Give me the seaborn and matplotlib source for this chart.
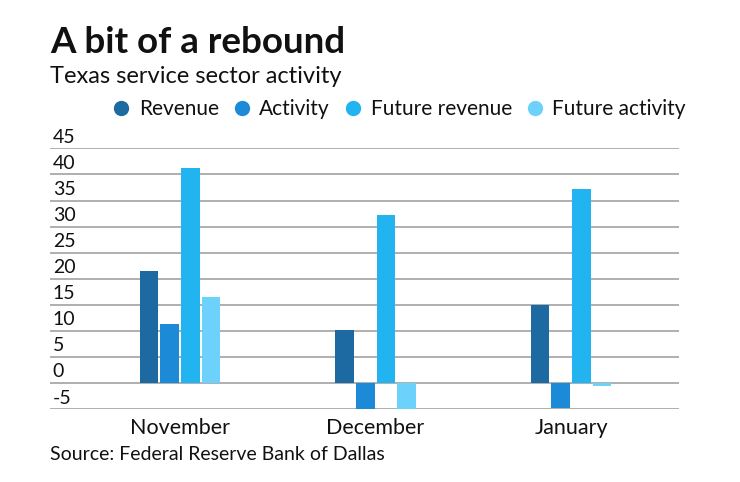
import matplotlib
matplotlib.use("Agg")
import matplotlib.pyplot as plt
from matplotlib.lines import Line2D
import pandas as pd
import seaborn as sns


## Chart data

months = ['November', 'December', 'January']
series = ['Revenue', 'Activity', 'Future revenue', 'Future activity']
revenue = [21.4, 10.1, 15.0]
activity = [11.4, -5.0, -4.7]
future_revenue = [41.3, 32.2, 37.2]
future_activity = [16.6, -5.0, -0.5]
y_ticks = [-5, 0, 5, 10, 15, 20, 25, 30, 35, 40, 45]

colors = ['#1c6aa1', '#1c8ad6', '#21b4f0', '#6cd2fc']
text_color = '#111111'


df = pd.DataFrame({
    'month': months * 4,
    'series': [s for s in series for _ in months],
    'value': revenue + activity + future_revenue + future_activity,
})

sns.set_style('white')
plt.rcParams['font.family'] = ['Lato', 'DejaVu Sans']

fig = plt.figure(figsize=(7.4, 4.82), dpi=100)
ax = fig.add_axes([50 / 740, 1 - 409.3 / 482, 629 / 740, 261 / 482])

sns.barplot(data=df, x='month', y='value', hue='series', order=months,
            hue_order=series, palette=colors, width=0.423, gap=0.1,
            saturation=1, linewidth=0, legend=False, ax=ax, zorder=3)

ax.set_ylim(-5, 45)
ax.set_xlim(-0.665, 2.552)
ax.set_yticks(y_ticks)
ax.set_yticklabels([])
ax.yaxis.grid(True, color='#9a9a9a', linewidth=1.1, zorder=0)
ax.set_axisbelow(True)
for sp in ax.spines.values():
    sp.set_visible(False)
ax.tick_params(axis='both', length=0)
ax.tick_params(axis='x', pad=6, labelsize=15.5, labelcolor=text_color)
ax.set_xlabel('')
ax.set_ylabel('')

# y labels sit just above each gridline, left aligned
for v in y_ticks:
    ax.annotate(str(v), xy=(0, v), xycoords=ax.get_yaxis_transform(),
                xytext=(2, 2), textcoords='offset points',
                ha='left', va='bottom', fontsize=14, color=text_color)

# title block
fig.text(50 / 740, 1 - 53 / 482, 'A bit of a rebound', fontsize=26.5,
         fontweight='bold', color=text_color, ha='left', va='baseline')
fig.text(50 / 740, 1 - 83 / 482, 'Texas service sector activity', fontsize=17,
         color=text_color, ha='left', va='baseline')

handles = [Line2D([], [], marker='o', linestyle='', markersize=10,
                  markerfacecolor=c, markeredgecolor=c) for c in colors]
fig.legend(handles, series, loc='center right', ncol=4,
           bbox_to_anchor=(686 / 740, 1 - 109 / 482), frameon=False,
           fontsize=15, handlelength=0.8, handletextpad=0.45,
           columnspacing=0.7, borderaxespad=0, borderpad=0,
           labelcolor=text_color)

fig.text(50 / 740, 1 - 460 / 482, 'Source: Federal Reserve Bank of Dallas',
         fontsize=14, color=text_color, ha='left', va='baseline')

fig.savefig('out.png', dpi=100)
